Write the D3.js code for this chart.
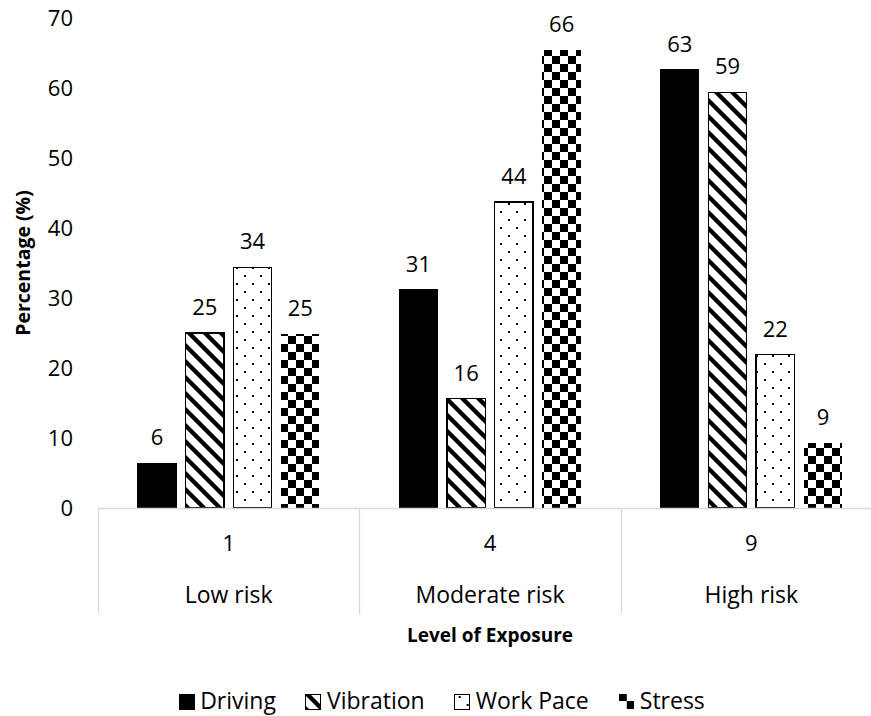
<!DOCTYPE html>
<html>
<head>
<meta charset="utf-8">
<script src="https://cdn.jsdelivr.net/npm/d3@7/dist/d3.min.js"></script>
<style>
  html, body { margin: 0; padding: 0; background: #fff; }
  svg { display: block; font-family: "Open Sans", sans-serif; }
</style>
</head>
<body>
<svg id="chart" width="871" height="716"></svg>
<script>
// Exposure categories and their numeric levels
const categories = ["Low risk", "Moderate risk", "High risk"];
const exposureLevels = ["1", "4", "9"];

// Series (percentage of respondents per exposure level)
const seriesNames = ["Driving", "Vibration", "Work Pace", "Stress"];
const driving   = [6.4, 31.2, 62.6];
const vibration = [25.0, 15.6, 59.4];
const workPace  = [34.4, 43.7, 21.9];
const stress    = [24.9, 65.5, 9.3];

// Y axis ticks
const yTicks = [0, 10, 20, 30, 40, 50, 60, 70];

const seriesValues = [driving, vibration, workPace, stress];
const rows = [];
categories.forEach((c, i) => {
  seriesNames.forEach((s, j) => rows.push({ category: c, series: s, value: seriesValues[j][i] }));
});

const svg = d3.select("#chart");
const plotLeft = 98, catWidth = 261.35, plotTop = 18, plotBottom = 508;
const numSize = 22, wordSize = 23;

// Fill patterns for each series
const defs = svg.append("defs");
const pDiag = defs.append("pattern").attr("id", "pat-diag")
  .attr("patternUnits", "userSpaceOnUse").attr("width", 16).attr("height", 16);
pDiag.append("rect").attr("width", 16).attr("height", 16).attr("fill", "#fff");
pDiag.append("path").attr("d", "M-4,-4L20,20M-4,12L4,20M12,-4L20,4")
  .attr("stroke", "#000").attr("stroke-width", 4.3).attr("fill", "none");

const pDots = defs.append("pattern").attr("id", "pat-dots")
  .attr("patternUnits", "userSpaceOnUse").attr("width", 16).attr("height", 16);
pDots.append("rect").attr("width", 16).attr("height", 16).attr("fill", "#fff");
pDots.append("rect").attr("x", 4).attr("y", 3).attr("width", 2).attr("height", 2).attr("fill", "#000");
pDots.append("rect").attr("x", 12).attr("y", 11).attr("width", 2).attr("height", 2).attr("fill", "#000");

const pCheck = defs.append("pattern").attr("id", "pat-check")
  .attr("patternUnits", "userSpaceOnUse").attr("width", 16).attr("height", 16);
pCheck.append("rect").attr("width", 16).attr("height", 16).attr("fill", "#fff");
pCheck.append("rect").attr("x", 0).attr("y", 0).attr("width", 8).attr("height", 8).attr("fill", "#000");
pCheck.append("rect").attr("x", 8).attr("y", 8).attr("width", 8).attr("height", 8).attr("fill", "#000");

const styles = {
  "Driving":   { fill: "#000", stroke: "#000", sw: 1 },
  "Vibration": { fill: "url(#pat-diag)", stroke: "#000", sw: 1.3 },
  "Work Pace": { fill: "url(#pat-dots)", stroke: "#000", sw: 1.3 },
  "Stress":    { fill: "url(#pat-check)", stroke: "none", sw: 0 }
};

// Scales
const x0 = d3.scaleBand().domain(categories)
  .range([plotLeft, plotLeft + catWidth * categories.length]).paddingInner(0).paddingOuter(0);
const x1 = d3.scaleBand().domain(seriesNames)
  .range([0, x0.bandwidth()]).paddingInner(0.196).paddingOuter(0.835);
const y = d3.scaleLinear().domain([0, 70]).range([plotBottom, plotTop]);

// Y axis tick labels (no axis line, no gridlines)
const yAxis = d3.axisLeft(y).tickValues(yTicks).tickSize(0).tickPadding(0).tickFormat(d3.format("d"));
const gy = svg.append("g").attr("transform", "translate(73,0)").call(yAxis);
gy.select(".domain").remove();
gy.selectAll("text").attr("font-size", numSize).attr("fill", "#000")
  .attr("font-family", "'Open Sans', sans-serif").attr("dy", "0.36em");

// Bars
const bars = svg.append("g");
bars.selectAll("rect").data(rows).join("rect")
  .attr("x", d => x0(d.category) + x1(d.series))
  .attr("y", d => y(d.value))
  .attr("width", x1.bandwidth())
  .attr("height", d => y(0) - y(d.value))
  .attr("fill", d => styles[d.series].fill)
  .attr("stroke", d => styles[d.series].stroke)
  .attr("stroke-width", d => styles[d.series].sw)
  .attr("shape-rendering", "crispEdges");

// Value labels
svg.append("g").selectAll("text").data(rows).join("text")
  .attr("x", d => x0(d.category) + x1(d.series) + x1.bandwidth() / 2)
  .attr("y", d => y(d.value) - 18)
  .attr("text-anchor", "middle")
  .attr("font-size", numSize).attr("fill", "#000")
  .text(d => Math.round(d.value));

// Category axis: baseline, group dividers, two rows of labels
const axisColor = "#d9d9d9";
const xEnd = plotLeft + catWidth * categories.length;
svg.append("line").attr("x1", plotLeft).attr("x2", xEnd).attr("y1", plotBottom + 0.5).attr("y2", plotBottom + 0.5)
  .attr("stroke", axisColor).attr("stroke-width", 1.3);
const dividers = categories.map(c => x0(c)).concat([xEnd]);
svg.append("g").selectAll("line").data(dividers).join("line")
  .attr("x1", d => Math.round(d) + 0.5).attr("x2", d => Math.round(d) + 0.5)
  .attr("y1", plotBottom).attr("y2", 614)
  .attr("stroke", axisColor).attr("stroke-width", 1.3);

svg.append("g").selectAll("text").data(categories).join("text")
  .attr("x", d => x0(d) + x0.bandwidth() / 2)
  .attr("y", 551)
  .attr("text-anchor", "middle").attr("font-size", numSize).attr("fill", "#000")
  .text((d, i) => exposureLevels[i]);

svg.append("g").selectAll("text").data(categories).join("text")
  .attr("x", d => x0(d) + x0.bandwidth() / 2)
  .attr("y", 603)
  .attr("text-anchor", "middle").attr("font-size", wordSize).attr("fill", "#000")
  .text(d => d);

// Axis titles
svg.append("text").attr("x", x0("Moderate risk") + x0.bandwidth() / 2).attr("y", 642)
  .attr("text-anchor", "middle").attr("font-size", 19).attr("font-weight", "bold").attr("fill", "#000")
  .text("Level of Exposure");
svg.append("text").attr("transform", `translate(30,${(plotTop + plotBottom) / 2}) rotate(-90)`)
  .attr("text-anchor", "middle").attr("font-size", 19.5).attr("font-weight", "bold").attr("fill", "#000")
  .text("Percentage (%)");

// Legend
const legend = svg.append("g");
const items = legend.selectAll("g").data(seriesNames).join("g");
items.append("rect").attr("x", 0).attr("y", -15).attr("width", 15).attr("height", 15)
  .attr("fill", d => styles[d].fill)
  .attr("stroke", d => d === "Stress" ? "none" : "#000")
  .attr("stroke-width", 1)
  .attr("shape-rendering", "crispEdges");
items.append("text").attr("x", 21).attr("y", 0)
  .attr("font-size", wordSize).attr("fill", "#000").text(d => d);
let cx = 0;
const gap = 30;
items.each(function() {
  const g = d3.select(this);
  g.attr("transform", `translate(${cx},0)`);
  cx += 21 + g.select("text").node().getComputedTextLength() + gap;
});
const total = cx - gap;
legend.attr("transform", `translate(${442 - total / 2},709)`);
</script>
</body>
</html>
